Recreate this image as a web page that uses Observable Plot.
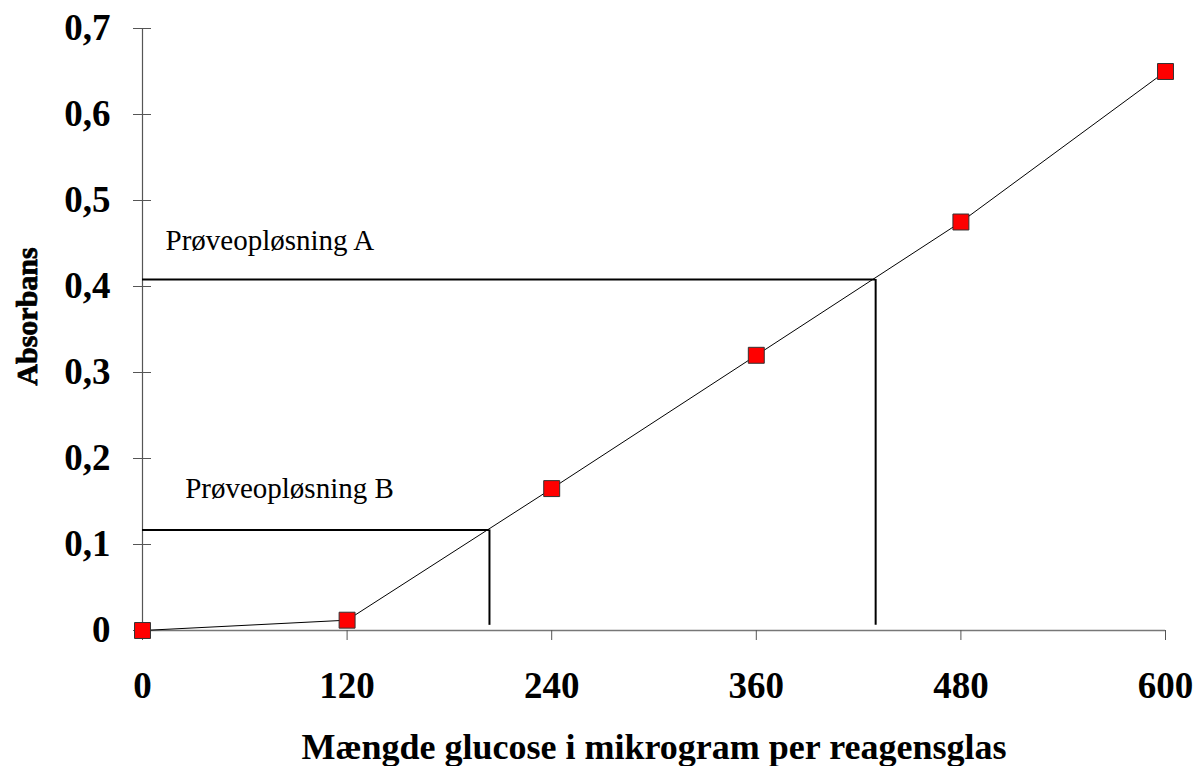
<!DOCTYPE html>
<html>
<head>
<meta charset="utf-8">
<script src="https://cdn.jsdelivr.net/npm/d3@7"></script>
<script src="https://cdn.jsdelivr.net/npm/@observablehq/plot@0.6"></script>
<style>
  html, body { margin: 0; padding: 0; background: #fff; }
  #chart svg { display: block; }
</style>
</head>
<body>
<div id="chart"></div>
<script>
// Data
const glucose = [0, 120, 240, 360, 480, 600];
const absorbance = [0.0, 0.012, 0.165, 0.32, 0.475, 0.65];
const xTicks = [0, 120, 240, 360, 480, 600];
const yTicks = [0, 0.1, 0.2, 0.3, 0.4, 0.5, 0.6, 0.7];
const sampleNames = ["Prøveopløsning A", "Prøveopløsning B"];
const sampleX = [430, 203.5];
const sampleY = [0.408, 0.117];
const labelX = [13.5, 25];
const labelY = [0.442, 0.154];
const xTitle = "Mængde glucose i mikrogram per reagensglas";
const yTitle = "Absorbans";

const points = glucose.map((g, i) => ({x: g, y: absorbance[i]}));
const samples = sampleNames.map((n, i) => ({name: n, x: sampleX[i], y: sampleY[i], lx: labelX[i], ly: labelY[i]}));

const fmtY = d => d === 0 ? "0" : d.toFixed(1).replace(".", ",");

const chart = Plot.plot({
  width: 1193,
  height: 766,
  marginLeft: 142,
  marginRight: 28,
  marginTop: 28,
  marginBottom: 136,
  style: {fontFamily: "Liberation Serif", background: "#fff", color: "#000"},
  x: {domain: [0, 600]},
  y: {domain: [0, 0.7]},
  marks: [
    Plot.ruleY([0], {stroke: "#777", strokeWidth: 1.5}),
    Plot.ruleX([0], {y1: 0, y2: 0.7, stroke: "#555", strokeWidth: 1.2}),
    Plot.axisX({ticks: xTicks, tickSize: 10, tickPadding: 31, tickFormat: d => String(d), fontSize: 37, fontWeight: "bold", stroke: "#555", fill: "#000", label: null}),
    Plot.axisY({ticks: yTicks, tickSize: 18, dx: 9, tickPadding: 23, tickFormat: fmtY, fontSize: 37, fontWeight: "bold", stroke: "#555", fill: "#000", label: null}),
    Plot.ruleY(samples, {y: "y", x1: 0, x2: "x", stroke: "#000", strokeWidth: 2}),
    Plot.ruleX(samples, {x: "x", y1: 0.006, y2: "y", stroke: "#000", strokeWidth: 2}),
    Plot.text(samples, {x: "lx", y: "ly", text: "name", textAnchor: "start", lineAnchor: "bottom", fontSize: 29, fill: "#000"}),
    Plot.line(points, {x: "x", y: "y", stroke: "#000", strokeWidth: 1}),
    Plot.dot(points, {x: "x", y: "y", symbol: "square", r: 9, fill: "#ff0000", stroke: "#333", strokeWidth: 1}),
    Plot.text([xTitle], {frameAnchor: "bottom", textAnchor: "middle", lineAnchor: "bottom", dy: 128, fontSize: 36, fontWeight: "bold", fill: "#000"}),
    Plot.text([yTitle], {frameAnchor: "left", textAnchor: "middle", lineAnchor: "middle", rotate: -90, dx: -115, dy: -13, fontSize: 30, fontWeight: "bold", fill: "#000", stroke: "#000", strokeWidth: 0.8})
  ]
});
document.getElementById("chart").appendChild(chart);
</script>
</body>
</html>
